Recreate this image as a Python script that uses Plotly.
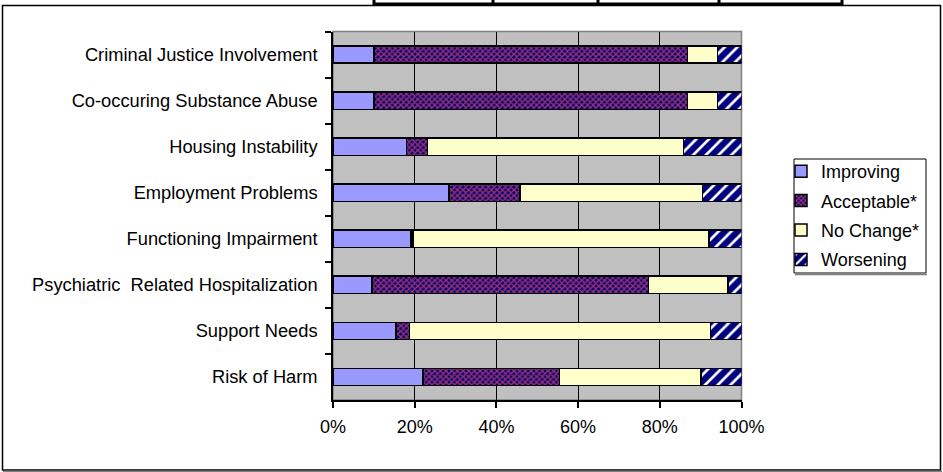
import plotly.graph_objects as go

categories = [
    "Criminal Justice Involvement",
    "Co-occuring Substance Abuse",
    "Housing Instability",
    "Employment Problems",
    "Functioning Impairment",
    "Psychiatric  Related Hospitalization",
    "Support Needs",
    "Risk of Harm",
]
improving = [10.0, 10.0, 18.0, 28.4, 19.1, 9.6, 15.4, 22.0]
acceptable = [76.8, 76.8, 5.1, 17.4, 0.5, 67.6, 3.3, 33.4]
no_change = [7.3, 7.3, 62.7, 44.6, 72.4, 19.5, 73.7, 34.7]
worsening = [5.9, 5.9, 14.2, 9.6, 8.0, 3.3, 7.6, 9.9]
series_names = ["Improving", "Acceptable*", "No Change*", "Worsening"]
x_ticks = [0, 0.2, 0.4, 0.6, 0.8, 1.0]
x_ticktext = ["0%", "20%", "40%", "60%", "80%", "100%"]

W, H = 943, 472
FONT = "Arial, Liberation Sans, sans-serif"

def px(x):
    return x / W

def py(y):
    return 1 - y / H

styles = [
    dict(color="#9999FF"),
    dict(color="#000080", pattern=dict(shape="x", bgcolor="#000080", fgcolor="#993366", size=4, solidity=0.6)),
    dict(color="#FFFFCC"),
    dict(color="#000080", pattern=dict(shape="/", bgcolor="#000080", fgcolor="#FFFFFF", size=9, solidity=0.3)),
]

fig = go.Figure()
for i, (name, vals) in enumerate(zip(series_names, [improving, acceptable, no_change, worsening])):
    tot = [improving[k] + acceptable[k] + no_change[k] + worsening[k] for k in range(len(categories))]
    frac = [v / t for v, t in zip(vals, tot)]
    fig.add_trace(go.Bar(
        y=categories, x=frac, name=name, orientation="h",
        marker=dict(line=dict(color="black", width=1.5), **styles[i]),
        legendgroup=name,
        hoverinfo="skip",
    ))

shapes = []
# plot border (gray) drawn below traces
shapes.append(dict(type="rect", xref="paper", yref="paper", x0=px(333), x1=px(741.5), y0=py(400), y1=py(31.5),
                   line=dict(color="#808080", width=1.5), layer="below"))
# outer chart box
shapes.append(dict(type="rect", xref="paper", yref="paper", x0=px(2.5), x1=px(940.5), y0=py(470), y1=py(5.5),
                   line=dict(color="black", width=1.5)))
shapes.append(dict(type="line", xref="paper", yref="paper", x0=px(3), x1=px(942), y0=py(471.5), y1=py(471.5),
                   line=dict(color="#808080", width=1.5)))
# table fragment on top
shapes.append(dict(type="line", xref="paper", yref="paper", x0=px(374), x1=px(842), y0=py(4), y1=py(4),
                   line=dict(color="black", width=3)))
for xv in [374, 493, 598, 719, 842]:
    shapes.append(dict(type="line", xref="paper", yref="paper", x0=px(xv), x1=px(xv), y0=py(0), y1=py(5),
                       line=dict(color="black", width=3)))
# legend box
shapes.append(dict(type="rect", xref="paper", yref="paper", x0=px(794), x1=px(926), y0=py(273), y1=py(159),
                   line=dict(color="black", width=1), fillcolor="white", layer="below"))
shapes.append(dict(type="line", xref="paper", yref="paper", x0=px(795), x1=px(927), y0=py(274.5), y1=py(274.5),
                   line=dict(color="#808080", width=1.5)))

fig.update_layout(
    template="none",
    width=W, height=H,
    margin=dict(l=0, r=0, t=0, b=0),
    paper_bgcolor="white",
    plot_bgcolor="#C0C0C0",
    barmode="stack",
    bargap=0.624,
    font=dict(family=FONT, size=18, color="black"),
    showlegend=True,
    legend=dict(
        x=px(781), y=py(153), xanchor="left", yanchor="top",
        bgcolor="rgba(0,0,0,0)", borderwidth=0,
        traceorder="grouped", tracegroupgap=3,
        font=dict(family=FONT, size=18, color="black"),
    ),
    xaxis=dict(
        domain=[px(333), px(741.5)],
        range=[0, 1],
        tickvals=x_ticks, ticktext=x_ticktext,
        ticks="outside", ticklen=6, tickcolor="black", tickwidth=1.5,
        showline=True, linecolor="black", linewidth=1.5,
        showgrid=False, zeroline=False,
        minor=dict(tickvals=[0.2, 0.4, 0.6, 0.8], showgrid=True, gridcolor="#000000", gridwidth=1, ticklen=0),
        ticklabelstandoff=4,
        tickfont=dict(family=FONT, size=18),
        automargin=False,
        fixedrange=True,
    ),
    yaxis=dict(
        domain=[py(400), py(31.5)],
        autorange="reversed",
        type="category",
        ticks="outside", ticklen=6, tickcolor="black", tickwidth=1.5,
        tickson="boundaries",
        showline=True, linecolor="black", linewidth=1.5,
        showgrid=False, zeroline=False,
        ticklabelstandoff=10,
        tickfont=dict(family=FONT, size=18.3),
        automargin=False,
        fixedrange=True,
    ),
    shapes=shapes,
)

fig.write_html("out.html")
